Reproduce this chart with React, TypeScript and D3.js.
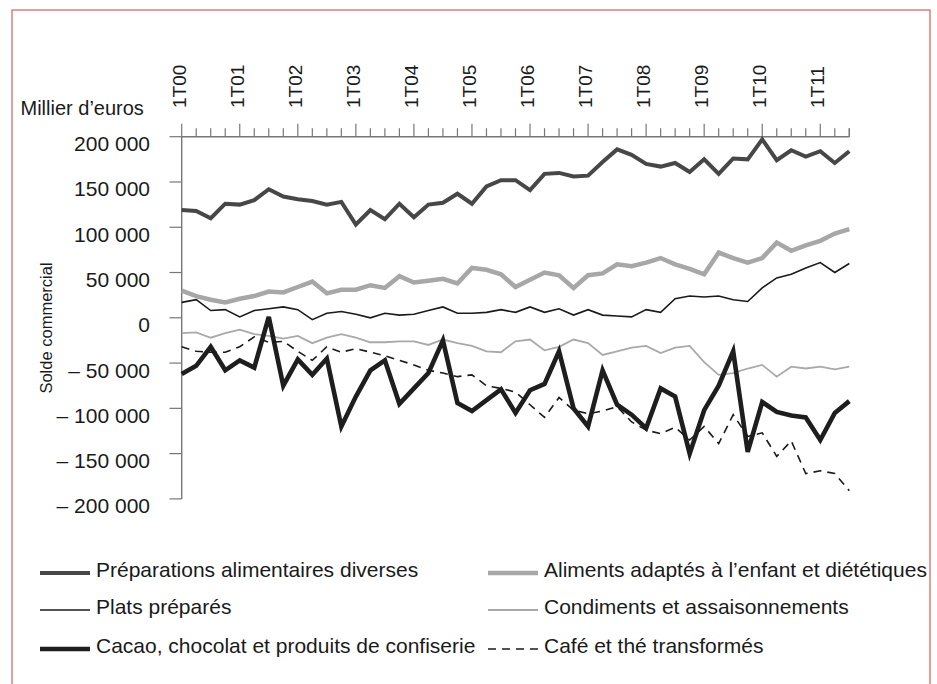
import React from "react";
import * as d3 from "d3";

const years = ["00", "01", "02", "03", "04", "05", "06", "07", "08", "09", "10", "11"];
const nQuarters = 47;
const categories: string[] = [];
years.forEach((yy) => ["1", "2", "3", "4"].forEach((q) => categories.push(`${q}T${yy}`)));
const cats = categories.slice(0, nQuarters);

const yTicks = [200000, 150000, 100000, 50000, 0, -50000, -100000, -150000, -200000];

// values in thousands of euros
const preparations = [119,118,110,126,125,130,142,134,131,129,125,128,103,119,109,126,111,125,127,137,126,145,152,152,141,159,160,156,157,172,186,180,170,167,171,161,175,159,176,175,197,174,185,178,184,171,184];
const aliments = [30,24,20,17,21,24,29,28,34,40,27,31,31,36,33,46,39,41,43,38,55,53,48,34,42,50,47,33,47,49,59,57,61,66,59,54,48,72,66,61,66,83,74,80,85,93,98];
const plats = [17,20,8,9,1,8,10,12,9,-2,5,7,4,0,5,3,4,8,12,5,5,6,9,6,12,6,10,3,9,3,2,1,9,6,21,24,23,24,20,18,33,44,48,55,61,50,60];
const condiments = [-17,-16,-22,-17,-13,-18,-20,-23,-20,-28,-22,-18,-22,-27,-27,-26,-26,-30,-24,-28,-31,-37,-38,-26,-24,-36,-32,-24,-28,-41,-37,-33,-31,-39,-33,-31,-49,-63,-61,-56,-52,-65,-54,-56,-54,-57,-54];
const cacao = [-62,-53,-32,-58,-47,-55,1,-75,-46,-63,-45,-120,-87,-58,-47,-95,-78,-61,-25,-94,-103,-91,-79,-105,-80,-73,-37,-100,-120,-58,-96,-107,-122,-78,-87,-150,-102,-75,-37,-148,-93,-104,-108,-110,-135,-105,-92];
const cafe = [-32,-37,-38,-38,-32,-21,-27,-26,-37,-47,-32,-38,-34,-38,-42,-47,-52,-58,-61,-65,-63,-75,-78,-82,-96,-110,-88,-102,-106,-103,-98,-115,-124,-128,-121,-135,-120,-139,-107,-131,-127,-153,-136,-172,-169,-172,-191];

const seriesNames = [
  "Préparations alimentaires diverses",
  "Aliments adaptés à l’enfant et diététiques",
  "Plats préparés",
  "Condiments et assaisonnements",
  "Cacao, chocolat et produits de confiserie",
  "Café et thé transformés",
];
const seriesData = [preparations, aliments, plats, condiments, cacao, cafe];

const styles = [
  { color: "#474747", width: 4, dash: "" },
  { color: "#a7a7a7", width: 4.5, dash: "" },
  { color: "#1a1a1a", width: 1.6, dash: "" },
  { color: "#a9a9a9", width: 1.8, dash: "" },
  { color: "#1e1e1e", width: 4.6, dash: "" },
  { color: "#1a1a1a", width: 1.6, dash: "8,6" },
];

const FONT = "'Liberation Sans', Arial, sans-serif";

const fmtNum = d3.format(",");
const fmtTick = (v: number) => {
  const s = fmtNum(Math.abs(v)).replace(/,/g, " ");
  return v < 0 ? "– " + s : s;
};

export default function App() {
  const W = 937, H = 684;
  const x = d3.scaleLinear().domain([0, nQuarters - 1]).range([181.7, 849.3]);
  const y = d3.scaleLinear().domain([-200000, 200000]).range([498.9, 136.7]);
  const line = d3
    .line<number>()
    .x((_, i) => x(i))
    .y((d) => y(d * 1000));

  const legendCols = [40, 488];
  const legendRows = [573, 610, 649];

  return (
    <svg width={W} height={H} style={{ position: "absolute", left: 0, top: 0, background: "#fff" }} fontFamily={FONT}>
      <rect x={0} y={0} width={W} height={H} fill="#fff" />
      <rect x={12} y={10} width={918} height={690} fill="none" stroke="#d76b6b" strokeWidth={1.3} />

      {/* Top x axis */}
      <line x1={x(0)} x2={x(nQuarters - 1)} y1={y(200000)} y2={y(200000)} stroke="#777" strokeWidth={1.4} />
      {cats.map((c, i) => {
        const major = c.startsWith("1T");
        return (
          <line key={c} x1={x(i)} x2={x(i)} y1={y(200000)} y2={y(200000) - (major ? 13 : 8.5)} stroke="#777" strokeWidth={1.2} />
        );
      })}
      <line x1={x(nQuarters - 1)} x2={x(nQuarters - 1)} y1={y(200000)} y2={y(200000) - 8.5} stroke="#777" strokeWidth={1.2} />
      {cats.map((c, i) =>
        c.startsWith("1T") ? (
          <text key={"l" + c} transform={`translate(${x(i) + 4},108) rotate(-90)`} fontSize={19} fill="#1a1a1a">
            {c}
          </text>
        ) : null
      )}

      {/* Y axis */}
      <line x1={x(0)} x2={x(0)} y1={y(200000)} y2={y(-200000)} stroke="#777" strokeWidth={1.4} />
      {yTicks.map((t) => (
        <g key={t}>
          <line x1={169.5} x2={x(0)} y1={y(t)} y2={y(t)} stroke="#777" strokeWidth={1.2} />
          <text x={150} y={y(t) + 14.5} textAnchor="end" fontSize={21} fill="#1a1a1a">
            {fmtTick(t)}
          </text>
        </g>
      ))}
      <text x={20.5} y={115} fontSize={20} fill="#1a1a1a">Millier d’euros</text>
      <text transform={`translate(52,328) rotate(-90)`} textAnchor="middle" fontSize={16.5} fill="#1a1a1a">
        Solde commercial
      </text>

      {/* Series */}
      {seriesData.map((s, k) => (
        <path
          key={seriesNames[k]}
          d={line(s) || ""}
          fill="none"
          stroke={styles[k].color}
          strokeWidth={styles[k].width}
          strokeDasharray={styles[k].dash || undefined}
          strokeLinejoin="miter"
          strokeMiterlimit={4}
        />
      ))}

      {/* Legend */}
      {seriesNames.map((name, k) => {
        const cx = legendCols[k % 2];
        const ry = legendRows[Math.floor(k / 2)];
        return (
          <g key={"lg" + k}>
            <line x1={cx} x2={cx + 50} y1={ry} y2={ry} stroke={styles[k].color} strokeWidth={styles[k].width} strokeDasharray={styles[k].dash || undefined} />
            <text x={cx + 56} y={ry + 4} fontSize={21} fill="#1a1a1a">
              {name}
            </text>
          </g>
        );
      })}
    </svg>
  );
}
